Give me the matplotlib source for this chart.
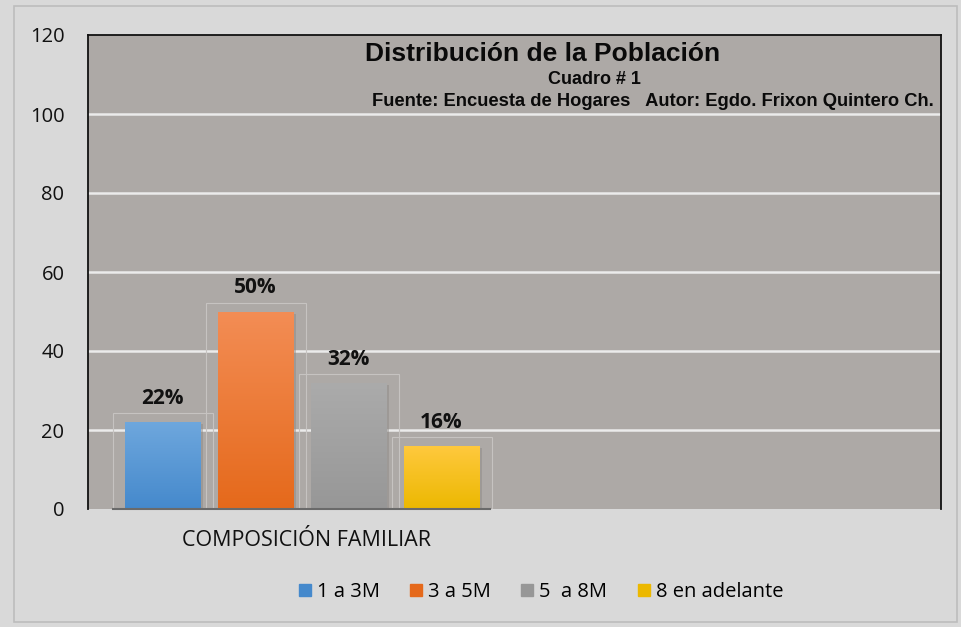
import numpy as np
import matplotlib.pyplot as plt
from matplotlib.patches import Rectangle
from matplotlib.colors import LinearSegmentedColormap

series = ["1 a 3M", "3 a 5M", "5  a 8M", "8 en adelante"]
values = [22, 50, 32, 16]
labels = ["22%", "50%", "32%", "16%"]
category = "COMPOSICIÓN FAMILIAR"
yticks = [0, 20, 40, 60, 80, 100, 120]

# top / bottom colour of each bar gradient
tops = ["#6ea7dd", "#f38d55", "#ababab", "#ffc93f"]
bottoms = ["#4589cc", "#e5691b", "#979797", "#ecb800"]

fig = plt.figure(figsize=(9.62, 6.27), dpi=100, facecolor="#d9d9d9")
fig.patches.append(Rectangle((13.5/962, 1-622/627), (957-13.5)/962, (622-6)/627,
                             transform=fig.transFigure, fill=False,
                             edgecolor="#bdbdbd", lw=1.2))

ax = fig.add_axes([88/962, 1-509/627, (941-88)/962, (509-35)/627])
ax.set_facecolor("#ada9a6")
ax.set_yticks(yticks)
ax.tick_params(axis="y", length=0, pad=17, labelsize=14.5, labelcolor="#111111")
ax.tick_params(axis="x", length=0)
ax.set_xticks([])
for lab in ax.get_yticklabels():
    lab.set_fontfamily("Open Sans")
for y in yticks[1:-1]:
    ax.axhline(y, color="#ebebeb", lw=1.8, zorder=1)
for s in ax.spines.values():
    s.set_color("#111111")
    s.set_linewidth(1.3)
ax.spines["bottom"].set_visible(False)
ax.plot([-0.53, 3.52], [0, 0], color="#6a6a6a", lw=1.5, zorder=4, clip_on=False)

x = np.arange(len(values))
bars = ax.bar(x, values, width=0.81, color=bottoms, zorder=3)
grad = np.linspace(0, 1, 256).reshape(-1, 1)
for i, b in enumerate(bars):
    # faint frame behind each bar
    ax.add_patch(Rectangle((b.get_x() - 0.13, 0), b.get_width() + 0.27, values[i] + 2.2,
                           fill=False, edgecolor="#c6c3c1", lw=0.8, zorder=2))
    # soft shadow
    ax.add_patch(Rectangle((b.get_x() + 0.03, -0.6), b.get_width(), values[i],
                           color="#8f8b88", alpha=0.5, zorder=2.5, lw=0))
    cm = LinearSegmentedColormap.from_list("g%d" % i, [bottoms[i], tops[i]])
    im = ax.imshow(grad, cmap=cm, aspect="auto", origin="lower", zorder=3.5,
                   extent=[b.get_x(), b.get_x() + b.get_width(), 0, values[i]])
    im.set_clip_path(b)
    ax.text(b.get_x() + b.get_width()/2, values[i] + 3.3, labels[i], ha="center",
            va="bottom", fontsize=15, fontweight="bold", family="Open Sans",
            color="#111111", zorder=5)

ax.set_xlim(-0.80, 8.37)
ax.set_ylim(0, 120)

fig.text(306/962, 1-540/627, category, ha="center", va="center", fontsize=15.5,
         family="Open Sans", color="#111111")

ax.text(543/962, 1-54/627, "Distribución de la Población", transform=fig.transFigure,
        ha="center", va="center", fontsize=19, fontweight="bold",
        family="Liberation Sans", color="#0a0a0a")
ax.text(594/962, 1-79/627, "Cuadro # 1", transform=fig.transFigure,
        ha="center", va="center", fontsize=13, fontweight="bold",
        family="Liberation Sans", color="#0a0a0a")
ax.text(653/962, 1-101/627, "Fuente: Encuesta de Hogares   Autor: Egdo. Frixon Quintero Ch.",
        transform=fig.transFigure, ha="center", va="center", fontsize=13.2,
        fontweight="bold", family="Liberation Sans", color="#0a0a0a")

handles = [Rectangle((0, 0), 1, 1, color=c) for c in bottoms]
fig.legend(handles, series, loc="center", bbox_to_anchor=(541/962, 1-592/627),
           ncol=4, frameon=False, prop={"family": "Open Sans", "size": 14.5},
           handlelength=0.6, handleheight=0.6, handletextpad=0.3, columnspacing=1.5)

fig.savefig("out.png", dpi=100, facecolor=fig.get_facecolor())
